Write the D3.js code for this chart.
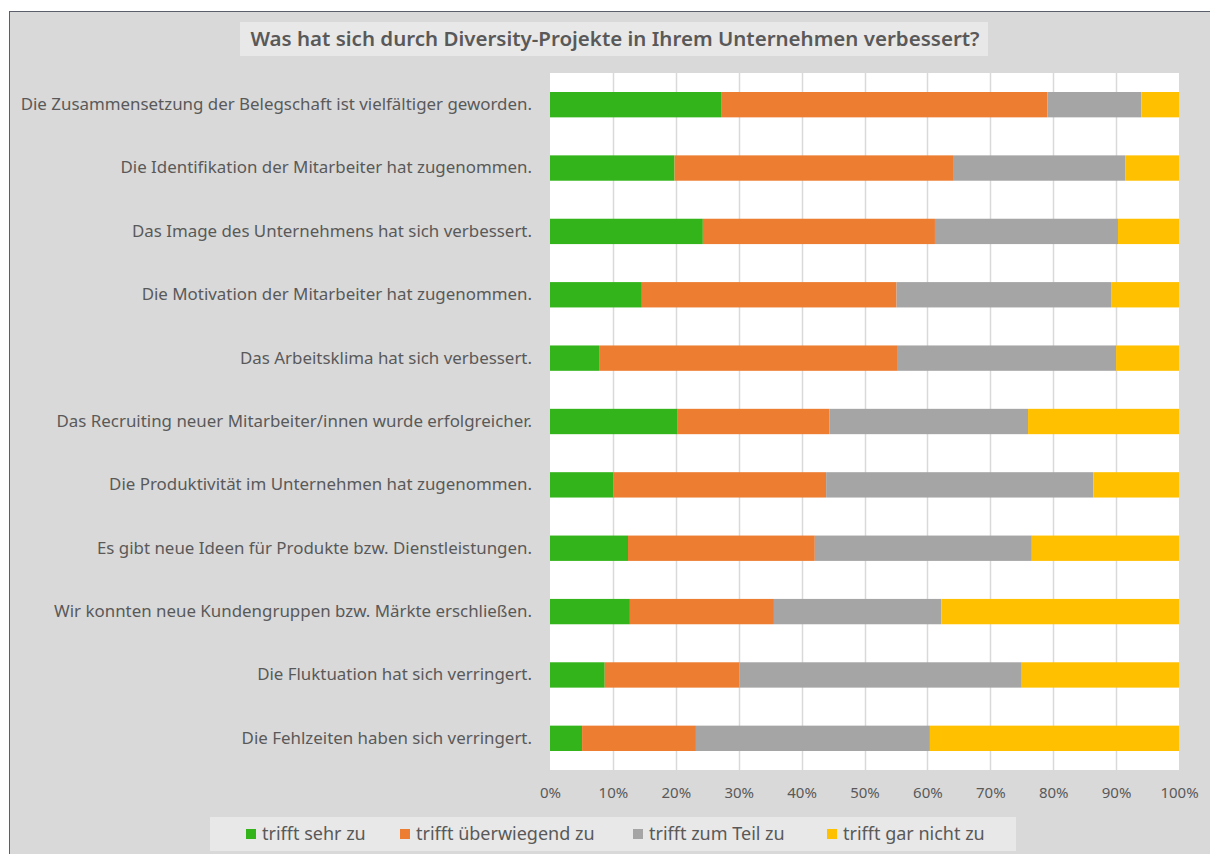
<!DOCTYPE html>
<html>
<head>
<meta charset="utf-8">
<script src="https://cdn.jsdelivr.net/npm/d3@7"></script>
<style>
  body { margin: 0; background: #fff; }
  svg text { font-family: "Noto Sans", "Open Sans", sans-serif; fill: #595959; }
</style>
</head>
<body>
<div class="graph"></div>
<script>
const title = "Was hat sich durch Diversity-Projekte in Ihrem Unternehmen verbessert?";

const categories = [
    "Die Zusammensetzung der Belegschaft ist vielfältiger geworden.",
    "Die Identifikation der Mitarbeiter hat zugenommen.",
    "Das Image des Unternehmens hat sich verbessert.",
    "Die Motivation der Mitarbeiter hat zugenommen.",
    "Das Arbeitsklima hat sich verbessert.",
    "Das Recruiting neuer Mitarbeiter/innen wurde erfolgreicher.",
    "Die Produktivität im Unternehmen hat zugenommen.",
    "Es gibt neue Ideen für Produkte bzw. Dienstleistungen.",
    "Wir konnten neue Kundengruppen bzw. Märkte erschließen.",
    "Die Fluktuation hat sich verringert.",
    "Die Fehlzeiten haben sich verringert."
];

const seriesNames = ["trifft sehr zu", "trifft überwiegend zu", "trifft zum Teil zu", "trifft gar nicht zu"];
const seriesColors = ["#33b41a", "#ed7d31", "#a5a5a5", "#ffc000"];

// percent per category, same order as categories
const sehr = [27.2, 19.8, 24.3, 14.6, 7.8, 20.3, 10.1, 12.4, 12.7, 8.7, 5.1];
const ueberwiegend = [51.9, 44.4, 36.9, 40.5, 47.5, 24.1, 33.8, 29.7, 22.9, 21.4, 18.1];
const teil = [14.9, 27.3, 29.1, 34.1, 34.7, 31.6, 42.5, 34.5, 26.6, 44.9, 37.2];
const garNicht = [6.0, 8.5, 9.7, 10.8, 10.0, 24.0, 13.6, 23.4, 37.8, 25.0, 39.6];

const xTicks = [0, 10, 20, 30, 40, 50, 60, 70, 80, 90, 100];

const W = 1210, H = 854;
const plot = { left: 550, right: 1179, top: 73, bottom: 770 };

const svg = d3.select(".graph").append("svg")
    .attr("width", W)
    .attr("height", H)
    .style("display", "block");

// chart background + frame
svg.append("rect")
    .attr("x", 9.5).attr("y", 11.5)
    .attr("width", W - 9).attr("height", H - 11)
    .attr("fill", "#d9d9d9")
    .attr("stroke", "#5a5f6b");

// plot area
svg.append("rect")
    .attr("x", plot.left).attr("y", plot.top)
    .attr("width", plot.right - plot.left)
    .attr("height", plot.bottom - plot.top)
    .attr("fill", "#fff");

var x = d3.scaleLinear().domain([0, 100]).range([plot.left, plot.right]);
var y = d3.scaleBand().domain(categories).range([plot.top, plot.bottom]).paddingInner(0.6).paddingOuter(0.3);

// grid
svg.append("g")
    .selectAll("line")
    .data(xTicks.slice(1, -1))
    .enter().append("line")
    .attr("x1", function (d) { return Math.round(x(d)) + 0.5; })
    .attr("x2", function (d) { return Math.round(x(d)) + 0.5; })
    .attr("y1", plot.top)
    .attr("y2", plot.bottom)
    .attr("stroke", "#d9d9d9")
    .attr("stroke-width", 1.5);

// stack data
const rows = categories.map(function (c, i) {
    return { cat: c, s0: sehr[i], s1: ueberwiegend[i], s2: teil[i], s3: garNicht[i] };
});
const stack = d3.stack().keys(["s0", "s1", "s2", "s3"])(rows);

svg.append("g")
    .selectAll("g")
    .data(stack)
    .enter().append("g")
    .attr("fill", function (d, i) { return seriesColors[i]; })
    .selectAll("rect")
    .data(function (d) { return d; })
    .enter().append("rect")
    .attr("x", function (d) { return x(d[0]); })
    .attr("width", function (d) { return x(Math.min(d[1], 100)) - x(d[0]); })
    .attr("y", function (d) { return y(d.data.cat); })
    .attr("height", y.bandwidth());

// category axis
var yAxis = svg.append("g")
    .attr("transform", "translate(" + (plot.left - 18) + ",0)")
    .call(d3.axisLeft(y).tickSize(0).tickPadding(0));
yAxis.select(".domain").remove();
yAxis.selectAll("text")
    .attr("font-size", "16.9px")
    .style("font-family", null);

// value axis
var xAxis = svg.append("g")
    .attr("transform", "translate(0," + (plot.bottom + 17) + ")")
    .call(d3.axisBottom(x).tickValues(xTicks).tickSize(0).tickFormat(function (d) { return d + "%"; }));
xAxis.select(".domain").remove();
xAxis.selectAll("text")
    .attr("font-size", "15px")
    .attr("dy", "0.71em")
    .attr("y", 0);

// title
var tg = svg.append("g");
tg.append("rect")
    .attr("x", 240).attr("y", 22)
    .attr("width", 748).attr("height", 34)
    .attr("fill", "#e8e8e8");
tg.append("text")
    .attr("x", 615).attr("y", 46)
    .attr("text-anchor", "middle")
    .attr("font-size", "20.5px")
    .attr("font-weight", "600")
    .text(title);

// legend
var lg = svg.append("g");
lg.append("rect")
    .attr("x", 210).attr("y", 817)
    .attr("width", 806).attr("height", 34)
    .attr("fill", "#e8e8e8");
const legendX = [246, 400, 633, 827];
var item = lg.selectAll(".item")
    .data(seriesNames)
    .enter().append("g")
    .attr("class", "item")
    .attr("transform", function (d, i) { return "translate(" + legendX[i] + ",834)"; });
item.append("rect")
    .attr("x", 0).attr("y", -5)
    .attr("width", 10).attr("height", 10)
    .attr("fill", function (d, i) { return seriesColors[i]; });
item.append("text")
    .attr("x", 16).attr("dy", "0.35em")
    .attr("font-size", "18px")
    .text(function (d) { return d; });
</script>
</body>
</html>
